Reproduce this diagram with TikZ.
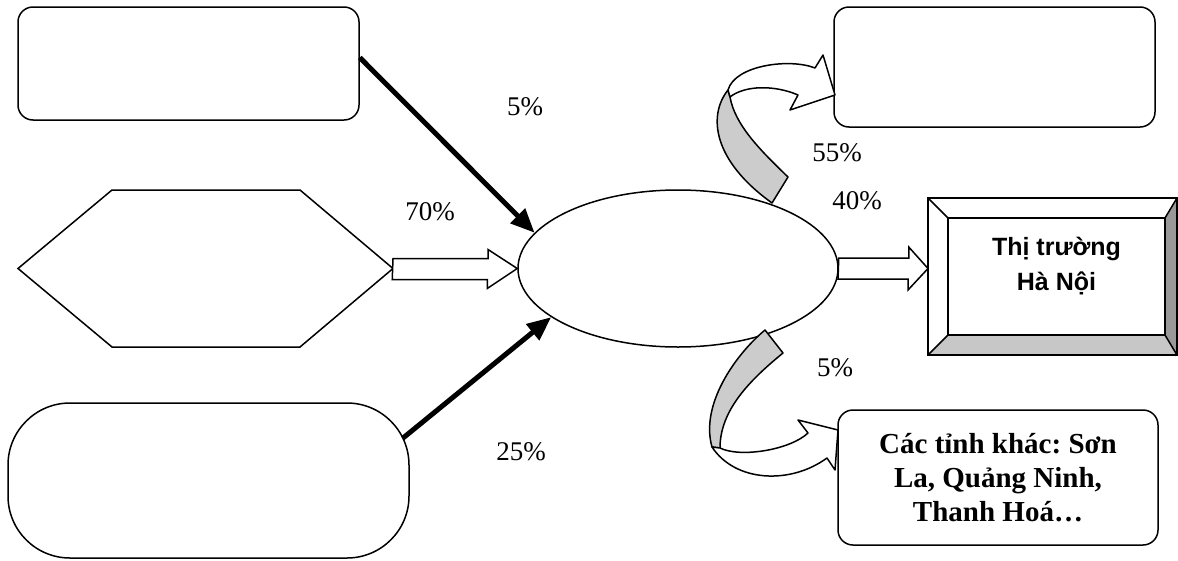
\documentclass[tikz,border=0pt]{standalone}
\usepackage{fontspec}
\setmainfont{Liberation Serif}
\newfontfamily\arialfont{Liberation Sans}
\usetikzlibrary{arrows.meta,calc,shapes.geometric}
\frenchspacing

\tikzset{
	box/.style={draw, line width=1.5pt, rounded corners=15pt, inner sep=0pt},
	pct/.style={font=\fontsize{27}{30}\selectfont},
	fat/.style={line width=5pt, -{Triangle[length=24pt,width=20pt]}},
	hollow/.style={draw, line width=1.5pt, fill=white, line join=miter},
	band/.style={draw, line width=1.5pt, fill=black!20, line join=round},
}

\begin{document}
\begin{tikzpicture}[x=1pt, y=-1pt]
			\useasboundingbox (0,0) rectangle (1178,560);
			\node[box, minimum width=341pt, minimum height=113pt] (src1) at (188.5,63.5) {};
			\node[inner sep=0pt, outer sep=0pt, minimum width=375pt, minimum height=157pt] (hex) at (205.5,268.5) {};
			\draw[line width=1.5pt] (hex.west) -- ($(hex.north west)+(94,0)$) -- ($(hex.north east)+(-93,0)$) -- (hex.east)
				-- ($(hex.south east)+(-93,0)$) -- ($(hex.south west)+(94,0)$) -- cycle;
			\node[box, rounded corners=62pt, minimum width=401pt, minimum height=155pt] (src3) at (208.5,480.5) {};
			\node[draw, ellipse, line width=1.5pt, inner sep=0pt, minimum width=320pt, minimum height=157pt] (ell) at (678,268.5) {};
			\node[box, minimum width=321pt, minimum height=120pt] (dst1) at (994.5,67) {};
			\node[inner sep=0pt, outer sep=0pt, minimum width=249pt, minimum height=157pt] (mkt) at (1052.5,276.5) {};
			\fill[black!40] (mkt.north east) -- (mkt.south east) -- ($(mkt.south east)+(-12,-20)$) -- ($(mkt.north east)+(-12,20)$) -- cycle;
			\fill[black!22] (mkt.south west) -- (mkt.south east) -- ($(mkt.south east)+(-12,-20)$) -- ($(mkt.south west)+(20,-20)$) -- cycle;
			\draw[line width=1.5pt] ($(mkt.north west)+(20,20)$) rectangle ($(mkt.south east)+(-12,-20)$);
			\draw[line width=1.5pt] (mkt.north west) -- ++(20,20) (mkt.north east) -- ++(-12,20)
				(mkt.south west) -- ++(20,-20) (mkt.south east) -- ++(-12,-20);
			\draw[line width=2.2pt] (mkt.north west) rectangle (mkt.south east);
			\node[font=\arialfont\bfseries\fontsize{25}{35}\selectfont, align=center] (mktlbl) at ($(mkt)+(4,-10)$) {Thị trường\\Hà Nội};
			\node[box, minimum width=320pt, minimum height=135pt, align=center,
				font=\bfseries\fontsize{29}{34}\selectfont] (dst3) at (998,477.5) {Các tỉnh khác: Sơn\\La, Quảng Ninh,\\Thanh Hoá…};

			\coordinate (src3out) at ($(src3.north east)+(-7,36)$);
			\draw[fat] (src1.2) -- (ell.166);
			\draw[fat] (src3out) -- (ell.201);
			\draw[hollow] (hex.east) ++(0,-10) -- ++(95,0) -- ++(0,-9) -- (ell.west) -- ++(-30,20) -- ++(0,-9) -- ++(-95,0) -- cycle;
			\draw[hollow] (ell.east) ++(0,-10.5) -- ++(70,0) -- ++(0,-11) -- (ell.east -| mkt.west) -- ++(-20,21.5) -- ++(0,-11) -- ++(-70,0) -- cycle;

			\draw[band] (772,203) -- (788,177) .. controls (760,150) and (735,125) .. (730,97) -- (728,90)
				.. controls (708,115) and (712,160) .. (772,203) -- cycle;
			\draw[hollow, line join=round] (728,90) .. controls (735,65) and (790,58) .. (815,68) -- (823,55) -- (835,95)
				-- (790,110) -- (798,95) .. controls (775,85) and (745,85) .. (730,97) -- cycle;
			\draw[band] (765,330) -- (783,353) .. controls (750,380) and (720,410) .. (720,448) -- (712,447)
				.. controls (700,405) and (735,355) .. (765,330) -- cycle;
			\draw[hollow, line join=round] (720,448) .. controls (740,458) and (790,450) .. (808,433) -- (798,420) -- (838,430)
				-- (835,470) -- (827,458) .. controls (790,485) and (735,482) .. (712,447) -- cycle;

			\node[pct] (p5a) at (525,107) {5\%};
			\node[pct] (p70) at (430,212) {70\%};
			\node[pct] (p25) at (521,452) {25\%};
			\node[pct] (p55) at (837,153) {55\%};
			\node[pct] (p40) at (857,201) {40\%};
			\node[pct] (p5b) at (835,368) {5\%};
\end{tikzpicture}
\end{document}
